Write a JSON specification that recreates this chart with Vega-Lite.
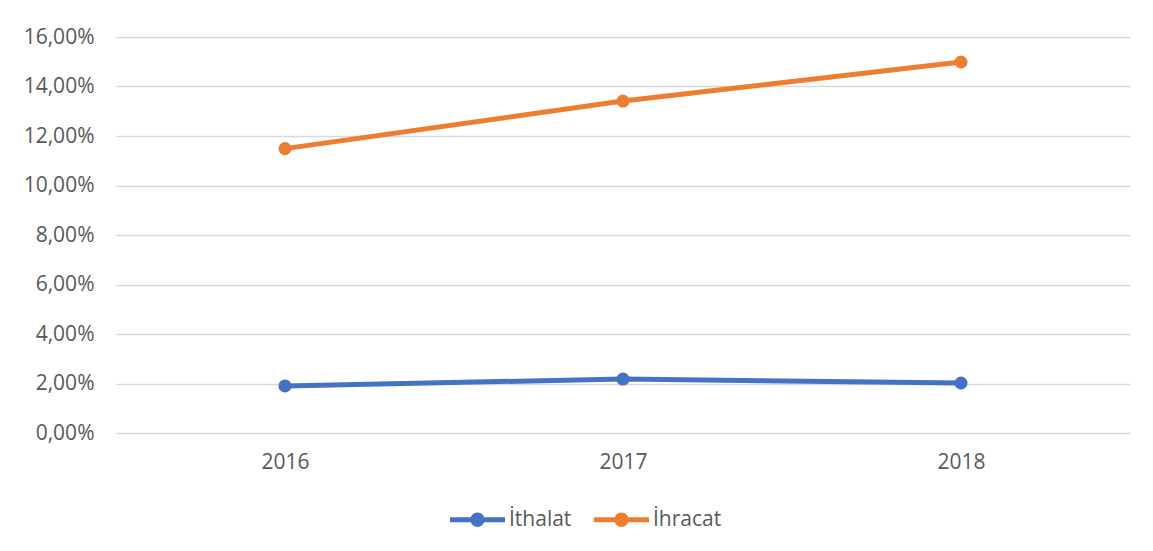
{
  "$schema": "https://vega.github.io/schema/vega-lite/v6.json",
  "width": 1014,
  "height": 396,
  "autosize": {"type": "none"},
  "padding": {"left": 116, "top": 37, "right": 23, "bottom": 118},
  "background": "white",
  "data": {
    "values": [
      {"yil": "2016", "seri": "İthalat", "oran": 0.0190},
      {"yil": "2017", "seri": "İthalat", "oran": 0.0218},
      {"yil": "2018", "seri": "İthalat", "oran": 0.0202},
      {"yil": "2016", "seri": "İhracat", "oran": 0.1149},
      {"yil": "2017", "seri": "İhracat", "oran": 0.1341},
      {"yil": "2018", "seri": "İhracat", "oran": 0.1499}
    ]
  },
  "mark": {"type": "line", "strokeWidth": 5, "strokeCap": "round", "point": {"filled": true, "size": 170, "opacity": 1}},
  "encoding": {
    "x": {
      "field": "yil", "type": "ordinal",
      "scale": {"type": "point", "padding": 0.5},
      "axis": {"title": null, "labelAngle": 0, "domain": false, "ticks": false, "labelPadding": 18, "grid": false}
    },
    "y": {
      "field": "oran", "type": "quantitative",
      "scale": {"domain": [0, 0.16], "nice": false},
      "axis": {
        "title": null,
        "values": [0, 0.02, 0.04, 0.06, 0.08, 0.1, 0.12, 0.14, 0.16],
        "labelExpr": "replace(format(datum.value, '.2%'), '.', ',')",
        "domain": false, "ticks": false, "labelPadding": 22,
        "grid": true, "gridColor": "#d9d9d9", "gridWidth": 1.5
      }
    },
    "color": {
      "field": "seri", "type": "nominal",
      "scale": {"domain": ["İthalat", "İhracat"], "range": ["#4472C4", "#ED7D31"]},
      "legend": {
        "title": null,
        "orient": "none",
        "direction": "horizontal",
        "legendX": 334,
        "legendY": 455,
        "symbolType": "M-1,-0.09 L1,-0.09 L1,0.09 L-1,0.09 Z M-0.26,0 A0.26,0.26 0 1,1 0.26,0 A0.26,0.26 0 1,1 -0.26,0 Z",
        "symbolSize": 3025,
        "labelOffset": 4,
        "columnPadding": 22,
        "encode": {
          "symbols": {
            "update": {
              "fill": {"scale": "color", "field": "value"},
              "stroke": {"value": "transparent"},
              "strokeWidth": {"value": 0},
              "opacity": {"value": 1}
            }
          }
        }
      }
    }
  },
  "config": {
    "view": {"stroke": null},
    "font": "Open Sans",
    "axis": {"labelFont": "Open Sans", "labelFontSize": 21, "labelColor": "#595959"},
    "legend": {"labelFont": "Open Sans", "labelFontSize": 21, "labelColor": "#595959"}
  }
}
